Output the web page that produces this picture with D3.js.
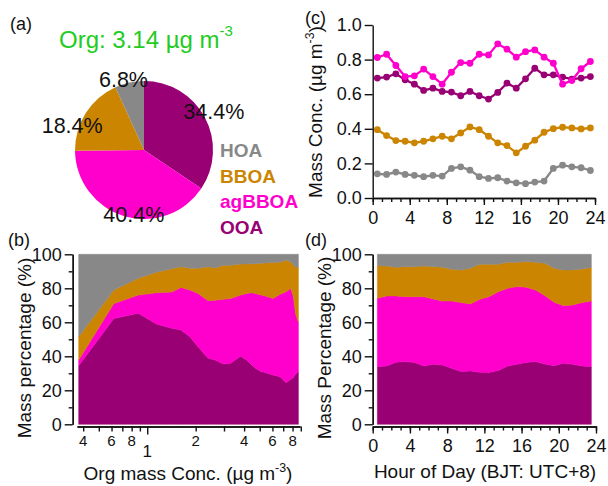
<!DOCTYPE html>
<html>
<head>
<meta charset="utf-8">
<title>Org source apportionment</title>
<script src="https://d3js.org/d3.v7.min.js"></script>
<style>
body { margin: 0; background: #fff; }
svg text { font-family: "Liberation Sans", Arial, sans-serif; fill: #111; }
.axis path, .axis line { stroke: #111; stroke-width: 1.4; }
.axis text { font-size: 18px; fill: #111; }
</style>
</head>
<body>
<svg id="fig" width="608" height="486"></svg>
<script>
// ---- data ----
var species = ["OOA", "agBBOA", "BBOA", "HOA"];
var speciesColor = ["#990073", "#ff00cc", "#cc8500", "#888888"];

// (a) pie, percent of total Org
var pieShare = [34.4, 40.4, 18.4, 6.8];
var orgTotal = 3.14;

// (c) diurnal mass conc., ug m-3
var hours = [0.5, 1.5, 2.5, 3.5, 4.5, 5.5, 6.5, 7.5, 8.5, 9.5, 10.5, 11.5,
             12.5, 13.5, 14.5, 15.5, 16.5, 17.5, 18.5, 19.5, 20.5, 21.5, 22.5, 23.5];
var ooaConc = [0.693, 0.699, 0.718, 0.683, 0.658, 0.622, 0.635, 0.616, 0.612, 0.591, 0.616, 0.591,
               0.572, 0.610, 0.664, 0.635, 0.689, 0.750, 0.712, 0.712, 0.699, 0.687, 0.693, 0.702];
var agbboaConc = [0.812, 0.831, 0.766, 0.702, 0.706, 0.745, 0.702, 0.658, 0.727, 0.783, 0.779, 0.831,
                  0.827, 0.891, 0.860, 0.814, 0.846, 0.856, 0.814, 0.779, 0.658, 0.679, 0.747, 0.789];
var bboaConc = [0.395, 0.361, 0.332, 0.328, 0.319, 0.328, 0.342, 0.357, 0.342, 0.376, 0.411, 0.395,
                0.357, 0.319, 0.303, 0.261, 0.299, 0.334, 0.380, 0.401, 0.409, 0.405, 0.399, 0.405];
var hoaConc = [0.140, 0.136, 0.150, 0.136, 0.131, 0.123, 0.131, 0.127, 0.171, 0.180, 0.161, 0.123,
               0.113, 0.117, 0.098, 0.088, 0.083, 0.092, 0.098, 0.171, 0.190, 0.180, 0.175, 0.159];

// (b) mass percentage vs Org mass conc. (ug m-3)
var orgConc = [0.375, 0.62, 0.88, 1.14, 1.42, 1.62, 1.84, 2.07, 2.39, 2.64, 2.97, 3.3, 3.8,
               4.15, 4.45, 4.7, 5.1, 5.4, 6.05, 6.7, 7.3, 7.8, 8.1, 8.35, 8.7];
var ooaPctB = [34.5, 62.3, 65.3, 59, 56.5, 55.5, 51.5, 45.6, 38.8, 37.8, 35.5, 35.9, 40,
               37.8, 35, 32.9, 31, 30.4, 29, 28, 24.5, 26.5, 27.5, 29.6, 30.9];
var agbboaPctB = [3.3, 8.7, 10.7, 18.4, 21.3, 25, 27.5, 31.4, 33.9, 35.2, 38, 38.1, 36,
                  39.2, 42.4, 44.1, 45, 45.1, 45, 48.5, 53.5, 53.5, 47.5, 35.4, 29.1];
var bboaPctB = [13.7, 8, 9.9, 12.1, 13.7, 12.2, 12.8, 14.8, 20, 19, 20, 19.5, 18.3,
                17.3, 17.1, 17.5, 18.8, 19.4, 21.2, 18.8, 18.7, 15.5, 18.7, 27.5, 32.2];
var hoaPctB = [48.5, 21, 14.1, 10.5, 8.5, 7.3, 8.2, 8.2, 7.3, 8, 6.5, 6.5, 5.7,
               5.7, 5.5, 5.5, 5.2, 5.1, 4.8, 4.7, 3.3, 4.5, 6.3, 7.5, 7.8];

// (d) diurnal mass percentage
var ooaPctD = [33.9, 34.3, 36.5, 36.9, 36.3, 34.3, 35.3, 34.9, 32.9, 31.0, 31.4, 30.6,
               30.4, 31.6, 34.3, 35.3, 36.3, 36.9, 35.5, 34.5, 35.9, 35.3, 34.3, 33.9];
var agbboaPctD = [40.2, 41.2, 39.0, 38.2, 38.8, 40.8, 38.4, 37.6, 39.6, 40.6, 39.4, 42.9,
                  44.7, 46.4, 45.7, 45.7, 44.3, 42.1, 40.2, 37.3, 33.9, 34.9, 37.3, 38.6];
var bboaPctD = [19.2, 17.6, 16.9, 17.6, 17.6, 18.0, 19.0, 19.9, 18.7, 19.2, 21.0, 20.6,
                19.0, 16.1, 15.3, 14.3, 15.1, 16.3, 19.0, 20.0, 21.0, 20.6, 19.8, 19.7];
var hoaPctD = [6.7, 6.9, 7.6, 7.3, 7.3, 6.9, 7.3, 7.6, 8.8, 9.2, 8.2, 5.9,
               5.9, 5.9, 4.7, 4.7, 4.3, 4.7, 5.3, 8.2, 9.2, 9.2, 8.6, 7.8];

var svg = d3.select("#fig");

// helper: text with a "-3" superscript
function unitText(sel, before, after) {
    sel.append("tspan").text(before);
    sel.append("tspan").attr("dy", -8).style("font-size", "0.65em").text("-3");
    sel.append("tspan").attr("dy", 8).text(after);
}

// ---------- (a) pie ----------
svg.append("text").attr("x", 10).attr("y", 30).style("font-size", "18px").text("(a)");
var orgTitle = svg.append("text").attr("x", 59).attr("y", 48)
    .style("font-size", "24px").style("fill", "#22cc22");
orgTitle.append("tspan").style("fill", "#22cc22").text("Org: " + orgTotal + " \u00b5g m");
orgTitle.append("tspan").style("fill", "#22cc22").attr("dy", -12).style("font-size", "15px").text("-3");

var pieData = species.map(function(s, i) { return {name: s, value: pieShare[i], color: speciesColor[i]}; });
var pie = d3.pie().sort(null).value(function(d) { return d.value; });
var arc = d3.arc().innerRadius(0).outerRadius(69);
var labelArc = d3.arc().innerRadius(78).outerRadius(78);
var labelNudge = [[1, -2], [12, -10], [-6, 17], [-4, 6]];
var gPie = svg.append("g").attr("transform", "translate(144,150)");
var arcs = pie(pieData);
gPie.selectAll("path").data(arcs).enter().append("path")
    .attr("d", arc).attr("fill", function(d) { return d.data.color; });
gPie.selectAll("text").data(arcs).enter().append("text")
    .attr("x", function(d, i) { return labelArc.centroid(d)[0] + labelNudge[i][0]; })
    .attr("y", function(d, i) { return labelArc.centroid(d)[1] + labelNudge[i][1]; })
    .attr("dy", "0.35em")
    .attr("text-anchor", "middle")
    .style("font-size", "21.5px")
    .text(function(d) { return d.data.value.toFixed(1) + "%"; });

// legend
var legendOrder = [3, 2, 1, 0];
legendOrder.forEach(function(k, i) {
    svg.append("text").attr("x", 220).attr("y", 157 + i * 25.5)
        .style("font-size", "19px").style("font-weight", "bold")
        .style("fill", speciesColor[k]).text(species[k]);
});

// ---------- (c) diurnal lines ----------
svg.append("text").attr("x", 305).attr("y", 24).style("font-size", "18px").text("(c)");
var xc = d3.scaleLinear().domain([0, 24]).range([372.7, 595]);
var yc = d3.scaleLinear().domain([0, 1]).range([198, 25]);

var concSeries = [ooaConc, agbboaConc, bboaConc, hoaConc];
var lineC = d3.line().x(function(d) { return xc(d[0]); }).y(function(d) { return yc(d[1]); });
concSeries.forEach(function(vals, k) {
    var pts = hours.map(function(h, i) { return [h, vals[i]]; });
    svg.append("path").datum(pts).attr("d", lineC)
        .attr("fill", "none").attr("stroke", speciesColor[k]).attr("stroke-width", 2.3);
    svg.append("g").selectAll("circle").data(pts).enter().append("circle")
        .attr("cx", function(d) { return xc(d[0]); })
        .attr("cy", function(d) { return yc(d[1]); })
        .attr("r", 3.4).attr("fill", speciesColor[k]);
});

svg.append("g").attr("class", "axis").attr("transform", "translate(372.7,0)")
    .call(d3.axisLeft(yc).tickValues([0, 0.2, 0.4, 0.6, 0.8, 1.0]).tickFormat(d3.format(".1f"))
        .tickSize(8).tickSizeOuter(0).tickPadding(3));
hourAxis(198, xc);

var ylabC = svg.append("text").attr("transform", "translate(322,112) rotate(-90)")
    .attr("text-anchor", "middle").style("font-size", "19px");
unitText(ylabC, "Mass Conc. (\u00b5g m", ")");

function hourAxis(y0, xs) {
    svg.append("g").attr("class", "axis").attr("transform", "translate(0," + y0 + ")")
        .call(d3.axisBottom(xs).tickValues(d3.range(0, 25, 1)).tickFormat("").tickSize(4).tickSizeOuter(0));
    svg.append("g").attr("class", "axis").attr("transform", "translate(0," + y0 + ")")
        .call(d3.axisBottom(xs).tickValues([0, 4, 8, 12, 16, 20, 24]).tickFormat(d3.format("d"))
            .tickSize(7).tickSizeOuter(0).tickPadding(6));
}

function pctYAxis(x0, ys) {
    svg.append("g").attr("class", "axis").attr("transform", "translate(" + x0 + ",0)")
        .call(d3.axisLeft(ys).tickValues([10, 30, 50, 70, 90]).tickFormat("").tickSize(4).tickSizeOuter(0));
    svg.append("g").attr("class", "axis").attr("transform", "translate(" + x0 + ",0)")
        .call(d3.axisLeft(ys).tickValues([0, 20, 40, 60, 80, 100]).tickSize(8).tickSizeOuter(0).tickPadding(3));
}

function stackArea(xs, ys, xvals, series) {
    var rows = xvals.map(function(x, i) {
        var r = {x: x};
        species.forEach(function(s, k) { r[s] = series[k][i]; });
        return r;
    });
    var layers = d3.stack().keys(species)(rows);
    var area = d3.area()
        .x(function(d) { return xs(d.data.x); })
        .y0(function(d) { return ys(d[0]); })
        .y1(function(d) { return ys(d[1]); });
    svg.append("g").selectAll("path").data(layers).enter().append("path")
        .attr("d", area)
        .attr("fill", function(d, k) { return speciesColor[k]; })
        .attr("stroke", function(d, k) { return speciesColor[k]; })
        .attr("stroke-width", 0.5);
}

// ---------- (b) percentage vs Org ----------
svg.append("text").attr("x", 8).attr("y", 246).style("font-size", "18px").text("(b)");
var xb = d3.scaleLog().domain([0.366, 8.9]).range([77, 300]);
var yb = d3.scaleLinear().domain([0, 100]).range([424.3, 254.3]);
stackArea(xb, yb, orgConc, [ooaPctB, agbboaPctB, bboaPctB, hoaPctB]);
pctYAxis(72.7, yb);

var minorB = [0.4, 0.5, 0.6, 0.7, 0.8, 0.9, 2, 3, 4, 5, 6, 7, 8, 9];
svg.append("g").attr("class", "axis").attr("transform", "translate(0,426.5)")
    .call(d3.axisBottom(xb).tickValues(minorB).tickFormat("").tickSize(5).tickSizeOuter(0));
svg.append("g").attr("class", "axis").attr("transform", "translate(0,426.5)")
    .call(d3.axisBottom(xb).tickValues([1]).tickFormat("").tickSize(8).tickSizeOuter(0));
var labB = [0.4, 0.6, 0.8, 2, 4, 6, 8];
svg.append("g").selectAll("text").data(labB).enter().append("text")
    .attr("x", function(d) { return xb(d); }).attr("y", 446)
    .attr("text-anchor", "middle").style("font-size", "15px")
    .text(function(d) { return d < 1 ? String(Math.round(d * 10)) : String(d); });
svg.append("text").attr("x", xb(1)).attr("y", 457).attr("text-anchor", "middle")
    .style("font-size", "17px").text("1");
var xlabB = svg.append("text").attr("x", 188).attr("y", 480).attr("text-anchor", "middle")
    .style("font-size", "19px");
unitText(xlabB, "Org mass Conc. (\u00b5g m", ")");
svg.append("text").attr("transform", "translate(31,348) rotate(-90)")
    .attr("text-anchor", "middle").style("font-size", "19px").text("Mass percentage (%)");

// ---------- (d) diurnal percentage ----------
svg.append("text").attr("x", 305).attr("y", 246).style("font-size", "18px").text("(d)");
var xd = d3.scaleLinear().domain([0, 24]).range([372.7, 596]);
var yd = d3.scaleLinear().domain([0, 100]).range([424.3, 254.3]);
stackArea(xd, yd, hours, [ooaPctD, agbboaPctD, bboaPctD, hoaPctD]);
pctYAxis(372.7, yd);
hourAxis(426.5, xd);
svg.append("text").attr("x", 485).attr("y", 478).attr("text-anchor", "middle")
    .style("font-size", "19px").text("Hour of Day (BJT: UTC+8)");
svg.append("text").attr("transform", "translate(331,348) rotate(-90)")
    .attr("text-anchor", "middle").style("font-size", "19px").text("Mass Percentage (%)");
</script>
</body>
</html>
